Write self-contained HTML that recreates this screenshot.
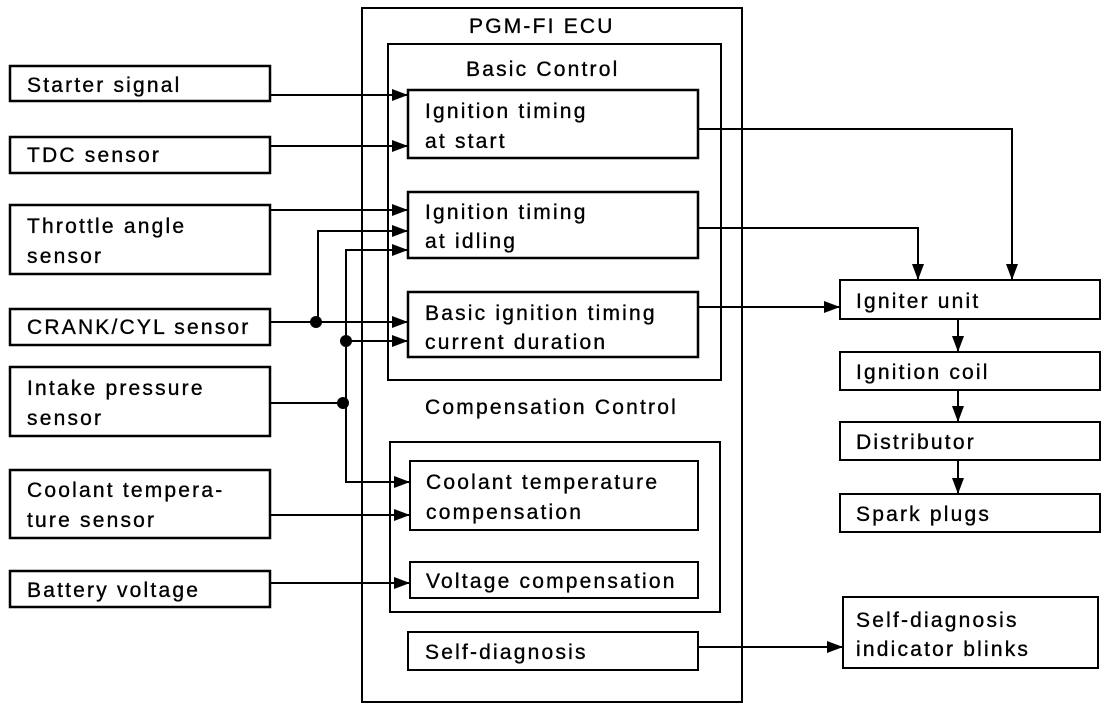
<!DOCTYPE html>
<html><head><meta charset="utf-8"><style>
html,body{margin:0;padding:0;background:#fff;}
svg text{font-family:"Liberation Sans",sans-serif;font-size:21px;fill:#000;stroke:#000;stroke-width:0.35px;letter-spacing:2.2px;}
</style></head><body>
<svg width="1120" height="710" viewBox="0 0 1120 710" xmlns="http://www.w3.org/2000/svg">
<defs>
<marker id="b" markerWidth="16" markerHeight="12" refX="16" refY="6" orient="auto" markerUnits="userSpaceOnUse"><path d="M0,0 L16,6 L0,12 Z" fill="#000"/></marker></defs>
<g fill="none" stroke="#000" stroke-width="2">
<rect x="362" y="8" width="380" height="694"/>
<rect x="388" y="44" width="333" height="336"/>
<rect x="408" y="90" width="290" height="68" stroke-width="2.5"/>
<rect x="408" y="192" width="290" height="66" stroke-width="2.5"/>
<rect x="408" y="292" width="290" height="65" stroke-width="2.5"/>
<rect x="390" y="442" width="330" height="170"/>
<rect x="410" y="461" width="288" height="69"/>
<rect x="410" y="562" width="288" height="36"/>
<rect x="408" y="632" width="290" height="38"/>
<rect x="10" y="66" width="260" height="35" stroke-width="2.5"/>
<rect x="10" y="137" width="260" height="36" stroke-width="2.5"/>
<rect x="10" y="205" width="260" height="69" stroke-width="2.5"/>
<rect x="10" y="309" width="260" height="36" stroke-width="2.5"/>
<rect x="10" y="367" width="260" height="69" stroke-width="2.5"/>
<rect x="10" y="470" width="260" height="68" stroke-width="2.5"/>
<rect x="10" y="571" width="260" height="36" stroke-width="2.5"/>
<rect x="840" y="280" width="260" height="39"/>
<rect x="840" y="352" width="260" height="38"/>
<rect x="840" y="422" width="260" height="38"/>
<rect x="840" y="494" width="260" height="38"/>
<rect x="843" y="597" width="255" height="71"/>
</g>
<g fill="none" stroke="#000" stroke-width="2">
<path d="M270,95 H408" marker-end="url(#b)"/>
<path d="M270,146 H408" marker-end="url(#b)"/>
<path d="M270,210 H408" marker-end="url(#b)"/>
<path d="M318,322 V231 H408" marker-end="url(#b)"/>
<path d="M346,403 V250 H408" marker-end="url(#b)"/>
<path d="M270,322 H408" marker-end="url(#b)"/>
<path d="M346,341 H408" marker-end="url(#b)"/>
<path d="M270,403 H346"/>
<path d="M346,403 V482 H410" marker-end="url(#b)"/>
<path d="M270,515 H410" marker-end="url(#b)"/>
<path d="M270,583 H410" marker-end="url(#b)"/>
<path d="M698,129 H1012 V280" marker-end="url(#b)"/>
<path d="M698,228 H918 V280" marker-end="url(#b)"/>
<path d="M698,307 H840" marker-end="url(#b)"/>
<path d="M958,319 V352" marker-end="url(#b)"/>
<path d="M958,390 V422" marker-end="url(#b)"/>
<path d="M958,460 V494" marker-end="url(#b)"/>
<path d="M698,647 H843" marker-end="url(#b)"/>
</g>
<circle cx="316" cy="322" r="6"/><circle cx="346" cy="341" r="6"/><circle cx="343" cy="403" r="6"/>
<text x="469" y="33">PGM-FI ECU</text>
<text x="466" y="76">Basic Control</text>
<text x="425" y="118">Ignition timing</text><text x="425" y="148">at start</text>
<text x="425" y="219">Ignition timing</text><text x="425" y="248">at idling</text>
<text x="425" y="320">Basic ignition timing</text><text x="425" y="349">current duration</text>
<text x="425" y="414">Compensation Control</text>
<text x="426" y="489">Coolant temperature</text><text x="426" y="519">compensation</text>
<text x="426" y="588">Voltage compensation</text>
<text x="425" y="659">Self-diagnosis</text>
<text x="27" y="92">Starter signal</text>
<text x="27" y="162">TDC sensor</text>
<text x="27" y="233">Throttle angle</text><text x="27" y="263">sensor</text>
<text x="27" y="334">CRANK/CYL sensor</text>
<text x="27" y="395">Intake pressure</text><text x="27" y="425">sensor</text>
<text x="27" y="497">Coolant tempera-</text><text x="27" y="527">ture sensor</text>
<text x="27" y="597">Battery voltage</text>
<text x="856" y="308">Igniter unit</text>
<text x="856" y="379">Ignition coil</text>
<text x="856" y="449">Distributor</text>
<text x="856" y="521">Spark plugs</text>
<text x="856" y="627">Self-diagnosis</text>
<text x="856" y="656">indicator blinks</text>
</svg>
</body></html>
